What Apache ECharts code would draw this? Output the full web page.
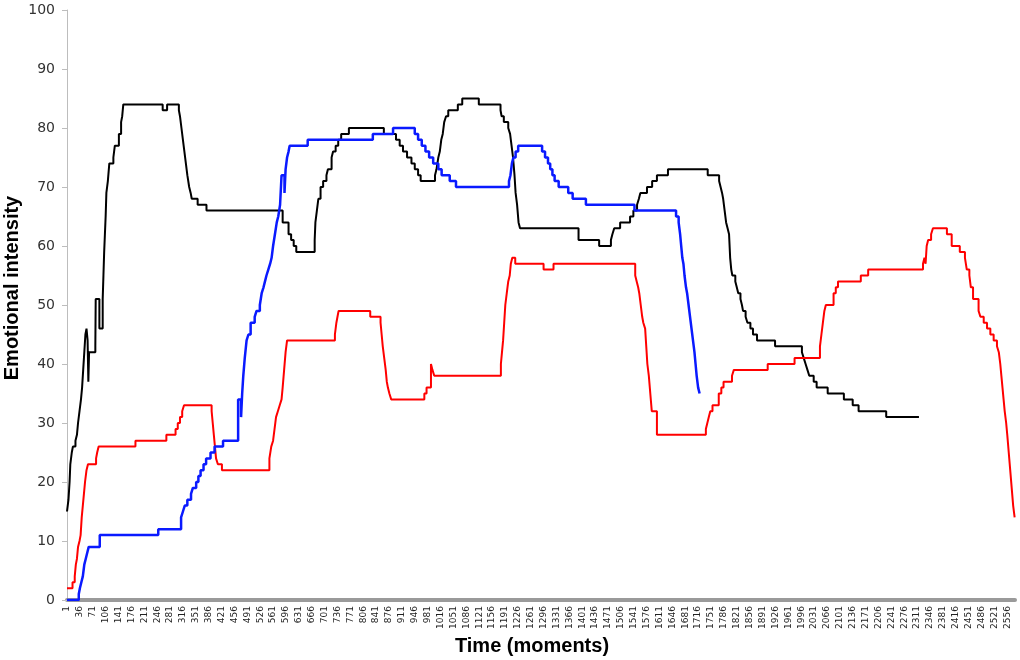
<!DOCTYPE html>
<html>
<head>
<meta charset="utf-8">
<script src="https://cdn.jsdelivr.net/npm/echarts@6/dist/echarts.min.js"></script>
<style>
html,body{margin:0;padding:0;background:#fff;}
#chart{width:1020px;height:660px;}
</style>
</head>
<body>
<div id="chart"></div>
<script>
// Number of moments on the x axis (categories 1..N)
var momentCount = 2577;
var yTicks = [0, 10, 20, 30, 40, 50, 60, 70, 80, 90, 100];

// Step series: [moment, value] = value held from that moment onward
var blackSeries = [[1,15],[5,17],[8,20],[10,23],[14,25],[17,26],[24,27],[28,28],[31,30],[35,32],[39,34],[42,36],[45,39],[48,42],[51,45],[54,46],[57,44],[59,37],[61,42],[78,43],[79,51],[89,46],[98,51],[100,55],[102,59],[104,62],[106,65],[108,69],[112,71],[116,74],[127,75],[131,77],[142,79],[148,81],[151,82],[154,84],[261,83],[273,84],[305,83],[308,82],[312,80],[316,78],[320,76],[324,74],[328,72],[333,70],[337,69],[340,68],[356,67],[380,66],[587,64],[603,62],[610,61],[617,60],[624,59],[674,61],[676,64],[680,66],[684,68],[690,70],[697,71],[706,72],[710,73],[720,75],[724,76],[731,77],[738,78],[746,79],[767,80],[862,79],[895,78],[905,77],[914,76],[925,75],[937,74],[946,73],[955,72],[962,71],[1001,72],[1005,73],[1010,75],[1014,76],[1018,78],[1022,79],[1026,81],[1031,82],[1037,83],[1063,84],[1075,85],[1120,84],[1179,83],[1182,82],[1188,81],[1200,80],[1205,79],[1209,77],[1213,75],[1217,72],[1220,69],[1224,67],[1228,64],[1232,63],[1391,61],[1447,60],[1479,61],[1483,62],[1488,63],[1504,64],[1531,65],[1540,66],[1550,67],[1555,68],[1559,69],[1577,70],[1591,71],[1604,72],[1634,73],[1742,72],[1773,71],[1777,70],[1781,69],[1784,68],[1788,66],[1792,64],[1796,63],[1800,62],[1803,58],[1806,56],[1809,55],[1817,54],[1821,53],[1825,52],[1831,51],[1835,50],[1838,49],[1845,48],[1850,47],[1858,46],[1865,45],[1876,44],[1925,43],[1998,42],[2003,41],[2008,40],[2013,39],[2018,38],[2030,37],[2038,36],[2068,35],[2112,34],[2136,33],[2152,32],[2227,31],[2316,31]];

var blueSeries = [[1,0],[33,1],[36,2],[40,3],[44,4],[46,5],[48,6],[52,7],[56,8],[60,9],[90,11],[249,12],[311,14],[316,15],[321,16],[328,17],[338,18],[343,19],[352,20],[358,21],[364,22],[372,23],[379,24],[391,25],[402,26],[425,27],[466,34],[474,31],[477,35],[480,38],[484,41],[489,44],[494,45],[500,47],[511,48],[516,49],[525,50],[530,52],[535,53],[539,54],[543,55],[548,56],[553,57],[557,58],[561,60],[566,62],[571,64],[575,65],[580,67],[584,72],[592,69],[595,73],[599,75],[603,76],[606,77],[655,78],[832,79],[887,80],[946,79],[955,78],[965,77],[975,76],[985,75],[996,74],[1010,73],[1019,72],[1041,71],[1058,70],[1202,71],[1206,72],[1210,74],[1214,75],[1220,76],[1227,77],[1292,76],[1300,75],[1308,74],[1314,73],[1320,72],[1326,71],[1337,70],[1363,69],[1375,68],[1411,67],[1543,66],[1656,65],[1663,64],[1667,62],[1670,60],[1673,58],[1676,57],[1679,55],[1683,53],[1686,52],[1690,50],[1694,48],[1698,46],[1702,44],[1706,42],[1709,40],[1712,38],[1716,36],[1720,35]];

var redSeries = [[1,2],[16,3],[22,4],[25,6],[28,7],[31,9],[35,10],[38,11],[41,14],[44,16],[47,18],[50,20],[54,22],[58,23],[80,24],[83,25],[87,26],[187,27],[271,28],[296,29],[302,30],[308,31],[314,32],[319,33],[394,32],[397,30],[400,28],[403,26],[406,24],[411,23],[422,22],[551,24],[556,26],[561,27],[565,29],[569,31],[574,32],[579,33],[584,34],[587,36],[591,39],[595,42],[599,44],[729,45],[733,47],[736,48],[739,49],[825,48],[853,47],[856,45],[859,43],[863,41],[867,39],[870,37],[873,36],[877,35],[882,34],[972,35],[978,36],[990,40],[994,39],[999,38],[1180,40],[1183,42],[1186,44],[1189,47],[1192,50],[1196,52],[1200,54],[1204,55],[1207,57],[1211,58],[1219,57],[1296,56],[1323,57],[1545,55],[1549,54],[1553,53],[1556,52],[1560,50],[1564,48],[1567,47],[1572,46],[1575,43],[1578,40],[1582,38],[1586,35],[1590,32],[1604,28],[1737,29],[1741,30],[1745,31],[1749,32],[1755,33],[1772,35],[1779,36],[1785,37],[1808,38],[1813,39],[1905,40],[1978,41],[2047,43],[2051,45],[2055,47],[2059,49],[2063,50],[2084,52],[2090,53],[2096,54],[2158,55],[2178,56],[2327,57],[2331,58],[2334,57],[2337,60],[2341,61],[2349,62],[2354,63],[2392,62],[2405,60],[2427,59],[2441,58],[2446,56],[2453,55],[2457,53],[2463,51],[2478,49],[2483,48],[2492,47],[2501,46],[2510,45],[2519,44],[2528,43],[2533,42],[2537,40],[2540,38],[2543,36],[2546,34],[2549,32],[2553,30],[2556,28],[2560,25],[2564,22],[2568,19],[2572,16],[2576,14],[2577,14]];

var categories = [];
for (var i = 1; i <= momentCount; i++) categories.push(String(i));

function toIndex(arr) {
  return arr.map(function (p) { return [p[0] - 1, p[1]]; });
}

function lineSeries(name, data, color, width) {
  return {
    name: name,
    type: 'line',
    step: 'end',
    data: toIndex(data),
    showSymbol: false,
    symbol: 'none',
    animation: false,
    lineStyle: { color: color, width: width },
    itemStyle: { color: color }
  };
}

var chart = echarts.init(document.getElementById('chart'), null, { renderer: 'canvas' });
chart.setOption({
  animation: false,
  backgroundColor: '#ffffff',
  grid: { left: 67, right: 5, top: 10, bottom: 60, containLabel: false, outerBoundsMode: 'none' },
  graphic: [{
    type: 'text',
    x: 12,
    y: 288,
    rotation: Math.PI / 2,
    style: {
      text: 'Emotional intensity',
      font: 'bold 20px "Liberation Sans"',
      fill: '#000',
      align: 'center',
      verticalAlign: 'middle'
    }
  }],
  xAxis: {
    type: 'category',
    data: categories,
    boundaryGap: false,
    name: 'Time (moments)',
    nameLocation: 'middle',
    nameGap: 35,
    nameTextStyle: { fontFamily: 'Liberation Sans', fontWeight: 'bold', fontSize: 20, color: '#000', padding: [0, 18, 0, 0] },
    axisLine: { lineStyle: { color: '#9a9a9a', width: 4 } },
    axisTick: { show: false },
    axisLabel: { interval: 34, rotate: 90, fontSize: 9, fontFamily: 'DejaVu Sans', color: '#222', margin: 6 },
    splitLine: { show: false }
  },
  yAxis: {
    type: 'value',
    min: yTicks[0],
    max: yTicks[yTicks.length - 1],
    interval: 10,
    axisLine: { show: true, lineStyle: { color: '#bdbdbd', width: 1 } },
    axisTick: { show: true, length: 5, lineStyle: { color: '#bdbdbd' } },
    axisLabel: { fontSize: 14, fontFamily: 'DejaVu Sans', color: '#333', margin: 12 },
    splitLine: { show: false }
  },
  series: [
    lineSeries('Black', blackSeries, '#000000', 2),
    lineSeries('Red', redSeries, '#ff0000', 2),
    lineSeries('Blue', blueSeries, '#0a1aff', 2.5)
  ]
});
</script>
</body>
</html>
